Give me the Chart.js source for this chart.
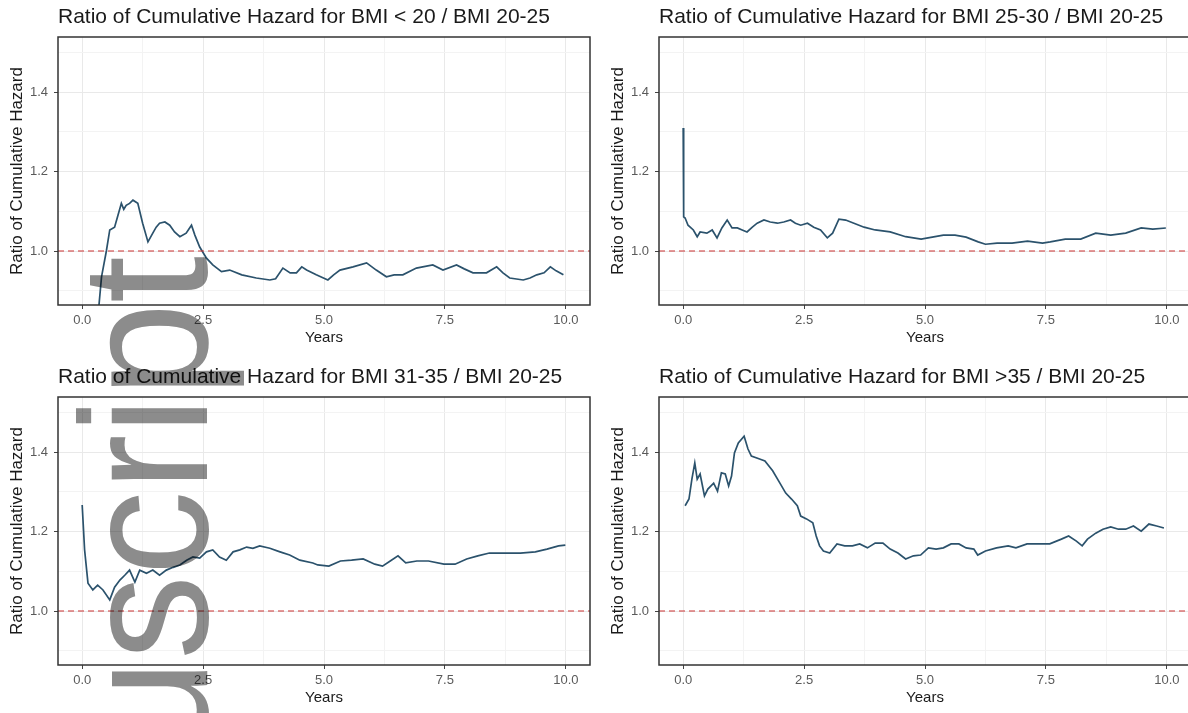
<!DOCTYPE html>
<html>
<head>
<meta charset="utf-8">
<script src="https://cdn.jsdelivr.net/npm/chart.js@4"></script>
<style>
  html, body { margin: 0; padding: 0; background: #fff; width: 1188px; height: 713px; overflow: hidden; }
  .panel { position: absolute; }
  #mark { position: absolute; left: 0; top: 0; pointer-events: none; mix-blend-mode: multiply; }
</style>
</head>
<body>
<div class="panel" style="left:0;top:0"><canvas id="tl" width="600" height="356"></canvas></div>
<div class="panel" style="left:601px;top:0"><canvas id="tr" width="600" height="356"></canvas></div>
<div class="panel" style="left:0;top:360px"><canvas id="bl" width="600" height="356"></canvas></div>
<div class="panel" style="left:601px;top:360px"><canvas id="br" width="600" height="356"></canvas></div>
<canvas id="mark" width="1188" height="713"></canvas>
<script>
// axes
const xMajor = [0, 2.5, 5, 7.5, 10];
const xMinor = [1.25, 3.75, 6.25, 8.75];
const yMajor = [1.0, 1.2, 1.4];
const yMinor = [0.9, 1.1, 1.3, 1.5];
const xLimits = [-0.5, 10.5];
const yLimits = [0.864, 1.539];
const refLevel = 1.0;

// BMI < 20 vs 20-25
const tlYears = [0.30,0.40,0.50,0.57,0.67,0.74,0.81,0.86,0.91,0.98,1.05,1.15,1.25,1.36,1.46,1.53,1.60,1.71,1.81,1.91,2.02,2.15,2.26,2.33,2.43,2.57,2.70,2.88,3.05,3.30,3.60,3.88,4.00,4.15,4.30,4.43,4.54,4.64,4.84,5.08,5.20,5.33,5.60,5.88,6.08,6.29,6.45,6.63,6.91,7.25,7.46,7.74,7.90,8.08,8.36,8.57,8.70,8.84,9.12,9.26,9.40,9.55,9.68,9.80,9.95];
const tlRatio = [0.80,0.935,1.00,1.053,1.06,1.09,1.12,1.105,1.115,1.12,1.128,1.12,1.07,1.023,1.045,1.06,1.07,1.073,1.065,1.048,1.036,1.045,1.065,1.04,1.01,0.982,0.965,0.948,0.952,0.940,0.932,0.927,0.930,0.957,0.945,0.945,0.960,0.952,0.940,0.927,0.940,0.952,0.960,0.970,0.952,0.935,0.940,0.940,0.957,0.965,0.952,0.965,0.955,0.945,0.945,0.960,0.945,0.932,0.927,0.932,0.940,0.945,0.960,0.950,0.940];

// BMI 25-30 vs 20-25
const trYears = [0.00,0.01,0.04,0.10,0.21,0.29,0.35,0.49,0.60,0.70,0.80,0.91,1.01,1.12,1.22,1.32,1.43,1.53,1.67,1.80,1.95,2.08,2.22,2.32,2.43,2.57,2.70,2.84,2.98,3.09,3.22,3.36,3.53,3.74,3.97,4.28,4.60,4.92,5.15,5.38,5.62,5.85,6.10,6.25,6.49,6.80,7.12,7.43,7.59,7.90,8.22,8.53,8.84,9.15,9.47,9.71,9.98];
const trRatio = [1.310,1.086,1.083,1.065,1.053,1.036,1.048,1.045,1.053,1.033,1.058,1.078,1.058,1.058,1.053,1.048,1.060,1.070,1.078,1.073,1.070,1.073,1.078,1.070,1.065,1.070,1.060,1.053,1.033,1.045,1.080,1.078,1.070,1.060,1.053,1.048,1.036,1.030,1.035,1.040,1.040,1.035,1.023,1.017,1.020,1.020,1.025,1.020,1.023,1.030,1.030,1.045,1.040,1.045,1.058,1.055,1.058];

// BMI 31-35 vs 20-25
const blYears = [0.00,0.05,0.12,0.22,0.32,0.43,0.57,0.67,0.78,0.88,0.98,1.09,1.19,1.33,1.46,1.60,1.74,1.88,2.02,2.16,2.29,2.43,2.57,2.70,2.84,2.98,3.12,3.26,3.40,3.53,3.67,3.88,4.09,4.29,4.50,4.77,4.87,5.10,5.34,5.57,5.81,6.05,6.21,6.37,6.53,6.69,6.92,7.16,7.48,7.71,7.95,8.18,8.42,8.74,9.06,9.37,9.61,9.85,9.99];
const blRatio = [1.267,1.154,1.070,1.053,1.065,1.053,1.028,1.060,1.078,1.090,1.103,1.073,1.103,1.095,1.103,1.090,1.103,1.110,1.116,1.128,1.136,1.133,1.149,1.154,1.136,1.128,1.149,1.154,1.161,1.158,1.164,1.158,1.149,1.141,1.128,1.121,1.116,1.113,1.126,1.128,1.131,1.118,1.113,1.126,1.139,1.121,1.126,1.126,1.118,1.118,1.131,1.139,1.146,1.146,1.146,1.149,1.156,1.164,1.166];

// BMI > 35 vs 20-25
const brYears = [0.04,0.12,0.18,0.24,0.29,0.35,0.44,0.51,0.63,0.71,0.79,0.87,0.94,1.00,1.06,1.14,1.26,1.34,1.41,1.58,1.69,1.85,2.00,2.12,2.24,2.36,2.43,2.55,2.68,2.75,2.82,2.90,3.03,3.18,3.34,3.50,3.65,3.81,3.97,4.13,4.28,4.44,4.60,4.76,4.91,5.07,5.23,5.38,5.54,5.70,5.85,6.01,6.09,6.25,6.48,6.72,6.88,7.11,7.35,7.58,7.82,7.97,8.13,8.25,8.36,8.53,8.68,8.84,9.00,9.15,9.31,9.47,9.63,9.79,9.94];
const brRatio = [1.265,1.282,1.332,1.373,1.332,1.345,1.290,1.307,1.322,1.302,1.348,1.345,1.315,1.340,1.398,1.423,1.440,1.408,1.390,1.383,1.378,1.353,1.322,1.297,1.282,1.265,1.239,1.232,1.222,1.189,1.164,1.151,1.146,1.169,1.164,1.164,1.169,1.159,1.171,1.171,1.156,1.146,1.131,1.139,1.141,1.159,1.156,1.159,1.169,1.169,1.159,1.156,1.141,1.151,1.159,1.164,1.159,1.169,1.169,1.169,1.181,1.189,1.176,1.164,1.181,1.196,1.206,1.212,1.206,1.206,1.214,1.201,1.219,1.214,1.209];

Chart.defaults.font.family = "'Liberation Sans', Arial, sans-serif";

const isMinor = (list, v) => list.some(m => Math.abs(m - v) < 1e-9);

const panelBorder = {
  id: 'panelBorder',
  afterDatasetsDraw(chart) {
    const { ctx, chartArea: a } = chart;
    ctx.save();
    ctx.strokeStyle = '#333333';
    ctx.lineWidth = 1.5;
    ctx.strokeRect(a.left, a.top, a.right - a.left, a.bottom - a.top);
    ctx.restore();
  }
};

function axisTicks(major, minor) {
  return scale => {
    scale.ticks = major.concat(minor).sort((a, b) => a - b).map(v => ({ value: v }));
  };
}

function makePanel(id, title, years, ratio) {
  const line = years.map((t, i) => ({ x: t, y: ratio[i] }));
  new Chart(document.getElementById(id), {
    type: 'line',
    data: {
      datasets: [
        {
          data: xLimits.map(x => ({ x: x, y: refLevel })),
          borderColor: '#cc3333',
          borderWidth: 1.2,
          borderDash: [6, 4],
          pointRadius: 0,
          order: 0
        },
        {
          data: line,
          borderColor: '#2b526c',
          borderWidth: 1.7,
          pointRadius: 0,
          tension: 0,
          clip: 0,
          order: 1
        }
      ]
    },
    options: {
      responsive: false,
      animation: false,
      devicePixelRatio: 1,
      layout: { padding: { left: 0, right: 10, top: 0, bottom: 0 } },
      plugins: {
        legend: { display: false },
        tooltip: { enabled: false },
        title: {
          display: true,
          text: title,
          align: 'start',
          fullSize: false,
          color: '#1a1a1a',
          font: { size: 21, weight: 'normal' },
          padding: { top: 5, bottom: 6.8 }
        }
      },
      scales: {
        x: {
          type: 'linear',
          min: xLimits[0],
          max: xLimits[1],
          afterBuildTicks: axisTicks(xMajor, xMinor),
          afterFit: s => { s.height = 51; },
          border: { display: false },
          grid: {
            color: c => isMinor(xMinor, c.tick.value) ? '#f3f3f3' : '#e9e9e9',
            tickColor: c => isMinor(xMinor, c.tick.value) ? 'rgba(0,0,0,0)' : '#444',
            tickLength: 4
          },
          ticks: {
            autoSkip: false,
            maxRotation: 0,
            padding: 4,
            color: '#5a5a5a',
            font: { size: 13 },
            callback: v => isMinor(xMinor, v) ? '' : v.toFixed(1)
          },
          title: {
            display: true,
            text: 'Years',
            color: '#1a1a1a',
            font: { size: 15 },
            padding: { top: 0, bottom: 9 }
          }
        },
        y: {
          min: yLimits[0],
          max: yLimits[1],
          afterBuildTicks: axisTicks(yMajor, yMinor),
          afterFit: s => { s.width = 58; },
          border: { display: false },
          grid: {
            color: c => isMinor(yMinor, c.tick.value) ? '#f3f3f3' : '#e9e9e9',
            tickColor: c => isMinor(yMinor, c.tick.value) ? 'rgba(0,0,0,0)' : '#444',
            tickLength: 4
          },
          ticks: {
            autoSkip: false,
            padding: 6,
            color: '#5a5a5a',
            font: { size: 13 },
            callback: v => isMinor(yMinor, v) ? '' : v.toFixed(1)
          },
          title: {
            display: true,
            text: 'Ratio of Cumulative Hazard',
            color: '#1a1a1a',
            font: { size: 17 },
            padding: { top: 7, bottom: 0 }
          }
        }
      }
    },
    plugins: [panelBorder]
  });
}

makePanel('tl', 'Ratio of Cumulative Hazard for BMI < 20 / BMI 20-25', tlYears, tlRatio);
makePanel('tr', 'Ratio of Cumulative Hazard for BMI 25-30 / BMI 20-25', trYears, trRatio);
makePanel('bl', 'Ratio of Cumulative Hazard for BMI 31-35 / BMI 20-25', blYears, blRatio);
makePanel('br', 'Ratio of Cumulative Hazard for BMI >35 / BMI 20-25', brYears, brRatio);

// "Manuscript" watermark running up the left column
const mk = document.getElementById('mark').getContext('2d');
mk.save();
mk.translate(207, 256);
mk.rotate(-Math.PI / 2);
mk.scale(1, 1.07);
mk.font = "169px 'Liberation Sans', Arial, sans-serif";
mk.fillStyle = '#8c8c8c';
mk.textAlign = 'right';
mk.textBaseline = 'alphabetic';
mk.fillText('Manuscript', 0, 0);
mk.restore();
</script>
</body>
</html>
